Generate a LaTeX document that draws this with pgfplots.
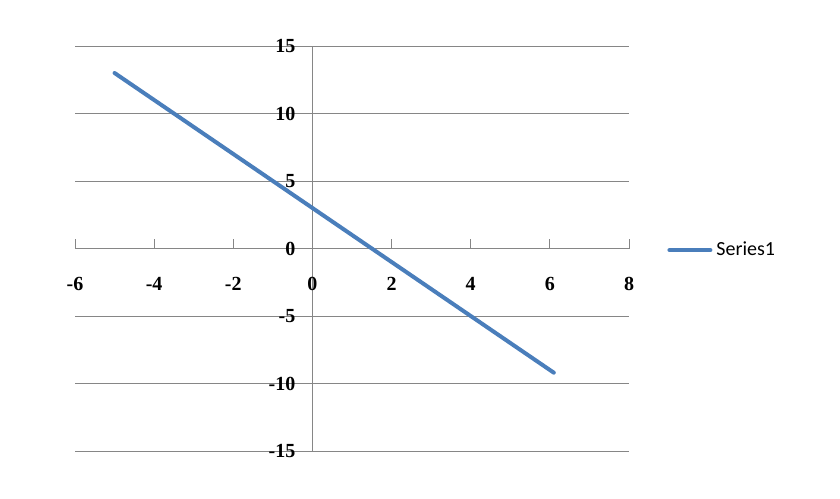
\documentclass[border=0pt]{standalone}
\usepackage{pgfplots}
\pgfplotsset{compat=1.18}
\usepackage{fontspec}
\setmainfont{Liberation Serif}
\newfontfamily\legfont{Carlito}
\definecolor{serblue}{HTML}{4A7EBB}
\definecolor{gridgray}{HTML}{868686}

\begin{document}
\begin{tikzpicture}
\begin{axis}[
    at={(0,0)}, anchor=south west,
    scale only axis,
    width=277pt, height=202.5pt,
    xmin=-6, xmax=8,
    ymin=-15, ymax=15,
    xtick={-6,-4,...,8},
    ytick={-15,-10,...,15},
    axis x line=middle,
    axis y line=middle,
    axis line style={draw=gridgray, line width=0.5pt, -},
    hide obscured x ticks=false,
    hide obscured y ticks=false,
    ymajorgrids=true,
    grid style={draw=gridgray, line width=0.5pt},
    major tick length=5pt,
    xtick style={draw=gridgray, line width=0.5pt},
    ytick style={draw=none},
    tick align=inside,
    /pgf/number format/assume math mode=true,
    ticklabel style={font=\fontsize{10}{12}\selectfont\bfseries},
    xticklabel style={anchor=north, yshift=-11pt},
    yticklabel style={anchor=east, xshift=-5pt},
    legend style={at={(1.0686,0.496)}, anchor=west, draw=none, fill=none,
        inner sep=0pt, font=\legfont\fontsize{10}{12}\selectfont},
    legend cell align=left,
    legend image code/.code={\draw[#1] (0pt,0pt) -- (20.5pt,0pt);},
    clip=false,
]
\addplot[color=serblue, line width=2pt, line cap=round] coordinates {
    (-5,13) (6.1,-9.2)
};
\legend{Series1}
\end{axis}
\path[use as bounding box] (-37.5pt,-23.5pt) rectangle (382.5pt,225.5pt);
\end{tikzpicture}
\end{document}
